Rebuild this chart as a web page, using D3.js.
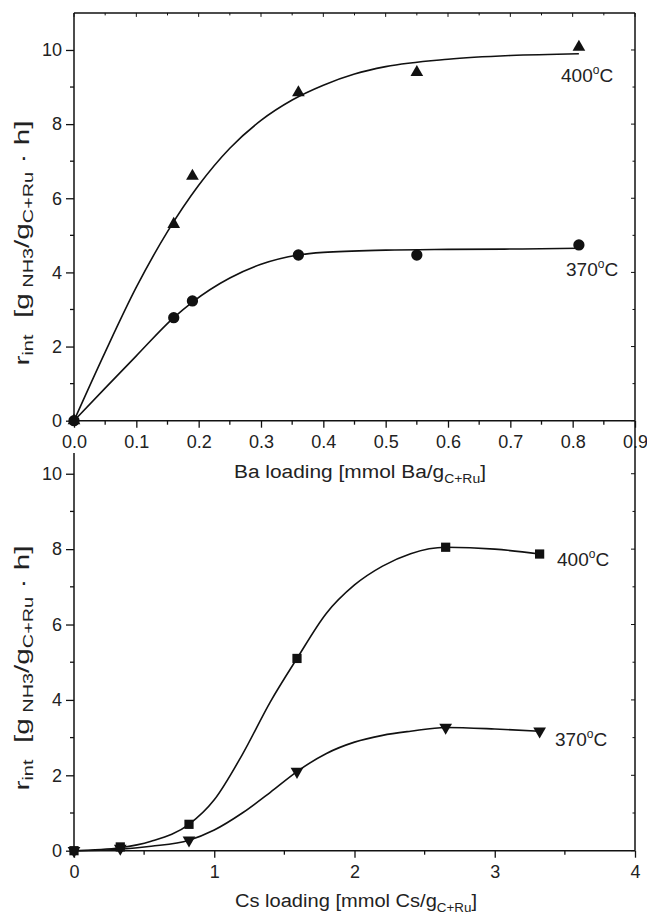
<!DOCTYPE html>
<html>
<head>
<meta charset="utf-8">
<script src="https://cdn.jsdelivr.net/npm/d3@7"></script>
<style>
  html, body { margin: 0; padding: 0; background: #fff; }
  svg { display: block; font-family: "Liberation Sans", Arial, sans-serif; }
  .curve { fill: none; stroke: #111; stroke-width: 1.6; }
  .axis-line { stroke: #111; stroke-width: 1.5; fill: none; }
  .tick line { stroke: #111; stroke-width: 1.3; }
  text { fill: #222; }
</style>
</head>
<body>
<svg id="chart" width="647" height="919"></svg>
<script>
// ---- Ba promoted catalyst (upper panel) ----
const baTicks = [0, 0.1, 0.2, 0.3, 0.4, 0.5, 0.6, 0.7, 0.8, 0.9];
const baTickLabels = ["0.0", "0.1", "0.2", "0.3", "0.4", "0.5", "0.6", "0.7", "0.8", "0.9"];
const rateTicks = [0, 2, 4, 6, 8, 10];

// measured points
const ba400x = [0, 0.16, 0.19, 0.36, 0.55, 0.81];
const ba400y = [0, 5.3, 6.6, 8.85, 9.4, 10.08];
const ba370x = [0, 0.16, 0.19, 0.36, 0.55, 0.81];
const ba370y = [0, 2.78, 3.23, 4.47, 4.47, 4.74];

// fitted curves
const ba400FitX = [0, 0.05, 0.1, 0.15, 0.2, 0.25, 0.3, 0.35, 0.4, 0.45, 0.5, 0.6, 0.7, 0.81];
const ba400FitY = [0, 1.85, 3.6, 5.1, 6.35, 7.35, 8.1, 8.65, 9.05, 9.35, 9.55, 9.75, 9.85, 9.9];
const ba370FitX = [0, 0.05, 0.1, 0.16, 0.19, 0.25, 0.3, 0.36, 0.4, 0.5, 0.6, 0.7, 0.81];
const ba370FitY = [0, 0.88, 1.75, 2.78, 3.2, 3.85, 4.22, 4.47, 4.54, 4.6, 4.62, 4.63, 4.65];

// ---- Cs promoted catalyst (lower panel) ----
const csTicks = [0, 1, 2, 3, 4];
const csTickLabels = ["0", "1", "2", "3", "4"];

const cs400x = [0, 0.33, 0.82, 1.59, 2.65, 3.32];
const cs400y = [0, 0.1, 0.7, 5.1, 8.05, 7.87];
const cs370x = [0, 0.33, 0.82, 1.59, 2.65, 3.32];
const cs370y = [0, 0.06, 0.28, 2.1, 3.27, 3.17];

const cs400FitX = [0, 0.33, 0.55, 0.82, 1.0, 1.2, 1.4, 1.59, 1.8, 2.0, 2.2, 2.4, 2.65, 3.0, 3.32];
const cs400FitY = [0, 0.08, 0.25, 0.7, 1.35, 2.55, 3.95, 5.1, 6.3, 7.05, 7.55, 7.88, 8.05, 8.0, 7.87];
const cs370FitX = [0, 0.33, 0.55, 0.82, 1.0, 1.2, 1.4, 1.59, 1.8, 2.0, 2.2, 2.4, 2.65, 3.0, 3.32];
const cs370FitY = [0, 0.04, 0.12, 0.28, 0.55, 1.0, 1.55, 2.1, 2.58, 2.88, 3.06, 3.17, 3.27, 3.23, 3.17];

const svg = d3.select("#chart");

function zip(xs, ys) { return xs.map((x, i) => [x, ys[i]]); }

function yLabel(g, cx, cy) {
  const t = g.append("text")
    .attr("transform", `translate(${cx},${cy}) rotate(-90)`)
    .attr("text-anchor", "middle")
    .attr("font-size", 21)
    .attr("textLength", 245)
    .attr("lengthAdjust", "spacingAndGlyphs");
  t.append("tspan").text("r");
  t.append("tspan").attr("font-size", 14).attr("dy", 4).text("int");
  t.append("tspan").attr("dy", -4).text("\u00a0\u00a0[g");
  t.append("tspan").attr("font-size", 14).attr("dy", 4).text("\u00a0NH3");
  t.append("tspan").attr("dy", -4).text("/g");
  t.append("tspan").attr("font-size", 14).attr("dy", 4).text("C+Ru");
  t.append("tspan").attr("dy", -4).text("\u00a0\u00b7\u00a0h]");
}

function xLabel(g, cx, cy, metal, len) {
  const t = g.append("text")
    .attr("x", cx).attr("y", cy)
    .attr("text-anchor", "middle")
    .attr("font-size", 18)
    .attr("textLength", len)
    .attr("lengthAdjust", "spacingAndGlyphs");
  t.append("tspan").text(`${metal} loading [mmol ${metal}/g`);
  t.append("tspan").attr("font-size", 12).attr("dy", 5).text("C+Ru");
  t.append("tspan").attr("dy", -5).text("]");
}

function tempLabel(g, x, y, temp) {
  const t = g.append("text").attr("x", x).attr("y", y).attr("font-size", 19);
  t.append("tspan").text(temp);
  t.append("tspan").attr("font-size", 12).attr("dy", -8).text("o");
  t.append("tspan").attr("dy", 8).text("C");
}

function panel(cfg) {
  const g = svg.append("g");
  const x = d3.scaleLinear().domain(cfg.xDomain).range([74, 635]);
  const y = d3.scaleLinear().domain(cfg.yDomain).range(cfg.yRange);
  const [x0, x1] = x.range();
  const [yb, yt] = y.range();

  // bottom axis: outward major + minor ticks
  const bottom = g.append("g").attr("transform", `translate(0,${yb})`)
    .call(d3.axisBottom(x).tickValues(cfg.xTicks).tickSize(7).tickSizeOuter(0).tickPadding(4)
      .tickFormat((d, i) => cfg.xTickLabels[i]));
  bottom.select(".domain").remove();
  bottom.selectAll("text").attr("font-size", 18).attr("fill", "#222").attr("dy", "0.9em")
    .attr("font-family", "Liberation Sans, Arial, sans-serif");
  g.append("g").selectAll("line").data(cfg.xMinor).join("line")
    .attr("x1", d => x(d)).attr("x2", d => x(d)).attr("y1", yb).attr("y2", yb + 4)
    .attr("stroke", "#111").attr("stroke-width", 1.3);

  // left axis
  const left = g.append("g").attr("transform", `translate(${x0},0)`)
    .call(d3.axisLeft(y).tickValues(rateTicks).tickSize(8).tickSizeOuter(0).tickPadding(4));
  left.select(".domain").remove();
  left.selectAll("text").attr("font-size", 18).attr("fill", "#222")
    .attr("font-family", "Liberation Sans, Arial, sans-serif");
  const yMinor = d3.range(1, 11, 2);
  g.append("g").selectAll("line").data(yMinor).join("line")
    .attr("x1", x0 - 4).attr("x2", x0).attr("y1", d => y(d)).attr("y2", d => y(d))
    .attr("stroke", "#111").attr("stroke-width", 1.3);

  // mirrored inward ticks on the right (and top if framed)
  const allY = rateTicks.concat(yMinor);
  g.append("g").selectAll("line").data(allY).join("line")
    .attr("x1", x1).attr("x2", d => x1 - (rateTicks.includes(d) ? 4 : 2.5))
    .attr("y1", d => y(d)).attr("y2", d => y(d))
    .attr("stroke", "#111").attr("stroke-width", 1);
  if (cfg.topFrame) {
    const allX = cfg.xTicks.concat(cfg.xMinor);
    g.append("g").selectAll("line").data(allX).join("line")
      .attr("x1", d => x(d)).attr("x2", d => x(d))
      .attr("y1", yt).attr("y2", d => yt + (cfg.xTicks.includes(d) ? 4 : 2.5))
      .attr("stroke", "#111").attr("stroke-width", 1);
  }

  // frame lines
  g.append("line").attr("class", "axis-line").attr("x1", x0).attr("x2", x1).attr("y1", yb).attr("y2", yb);
  g.append("line").attr("class", "axis-line").attr("x1", x0).attr("x2", x0).attr("y1", yb).attr("y2", yt);
  g.append("line").attr("class", "axis-line").attr("x1", x1).attr("x2", x1).attr("y1", yb).attr("y2", cfg.rightTop ?? yt);
  if (cfg.topFrame)
    g.append("line").attr("class", "axis-line").attr("x1", x0).attr("x2", x1).attr("y1", yt).attr("y2", yt);

  // fit curves
  const line = d3.line().x(d => x(d[0])).y(d => y(d[1])).curve(d3.curveMonotoneX);
  cfg.series.forEach(s => {
    g.append("path").attr("class", "curve").attr("d", line(s.fit));
  });
  // measured points
  cfg.series.forEach(s => {
    g.append("g").selectAll("path").data(s.pts).join("path")
      .attr("d", d3.symbol().type(s.symbol).size(s.size))
      .attr("transform", d => `translate(${x(d[0])},${y(d[1])})${s.flip ? " rotate(180)" : ""}`)
      .attr("fill", "#111");
  });
  cfg.series.forEach(s => tempLabel(g, s.labelX, s.labelY, s.temp));

  yLabel(g, 29, cfg.yLabelY);
  xLabel(g, cfg.titleX, cfg.titleY, cfg.metal, cfg.titleLen);
}

panel({
  xDomain: [0, 0.9], yDomain: [0, 11], yRange: [420.7, 12.9],
  xTicks: baTicks, xTickLabels: baTickLabels,
  xMinor: d3.range(0.05, 0.9, 0.1),
  topFrame: true, metal: "Ba", titleX: 360, titleY: 478, titleLen: 252, yLabelY: 243,
  series: [
    { pts: zip(ba400x, ba400y), fit: zip(ba400FitX, ba400FitY), symbol: d3.symbolTriangle, size: 70,
      temp: "400", labelX: 561, labelY: 82 },
    { pts: zip(ba370x, ba370y), fit: zip(ba370FitX, ba370FitY), symbol: d3.symbolCircle, size: 100,
      temp: "370", labelX: 566, labelY: 276 }
  ]
});

panel({
  xDomain: [0, 4], yDomain: [0, 10.55], yRange: [850.7, 453],
  xTicks: csTicks, xTickLabels: csTickLabels,
  xMinor: [0.5, 1.5, 2.5, 3.5],
  topFrame: false, rightTop: 421, metal: "Cs", titleX: 356, titleY: 907, titleLen: 242, yLabelY: 668,
  series: [
    { pts: zip(cs400x, cs400y), fit: zip(cs400FitX, cs400FitY), symbol: d3.symbolSquare, size: 85,
      temp: "400", labelX: 557, labelY: 566 },
    { pts: zip(cs370x, cs370y), fit: zip(cs370FitX, cs370FitY), symbol: d3.symbolTriangle, size: 70, flip: true,
      temp: "370", labelX: 555, labelY: 746 }
  ]
});
</script>
</body>
</html>
